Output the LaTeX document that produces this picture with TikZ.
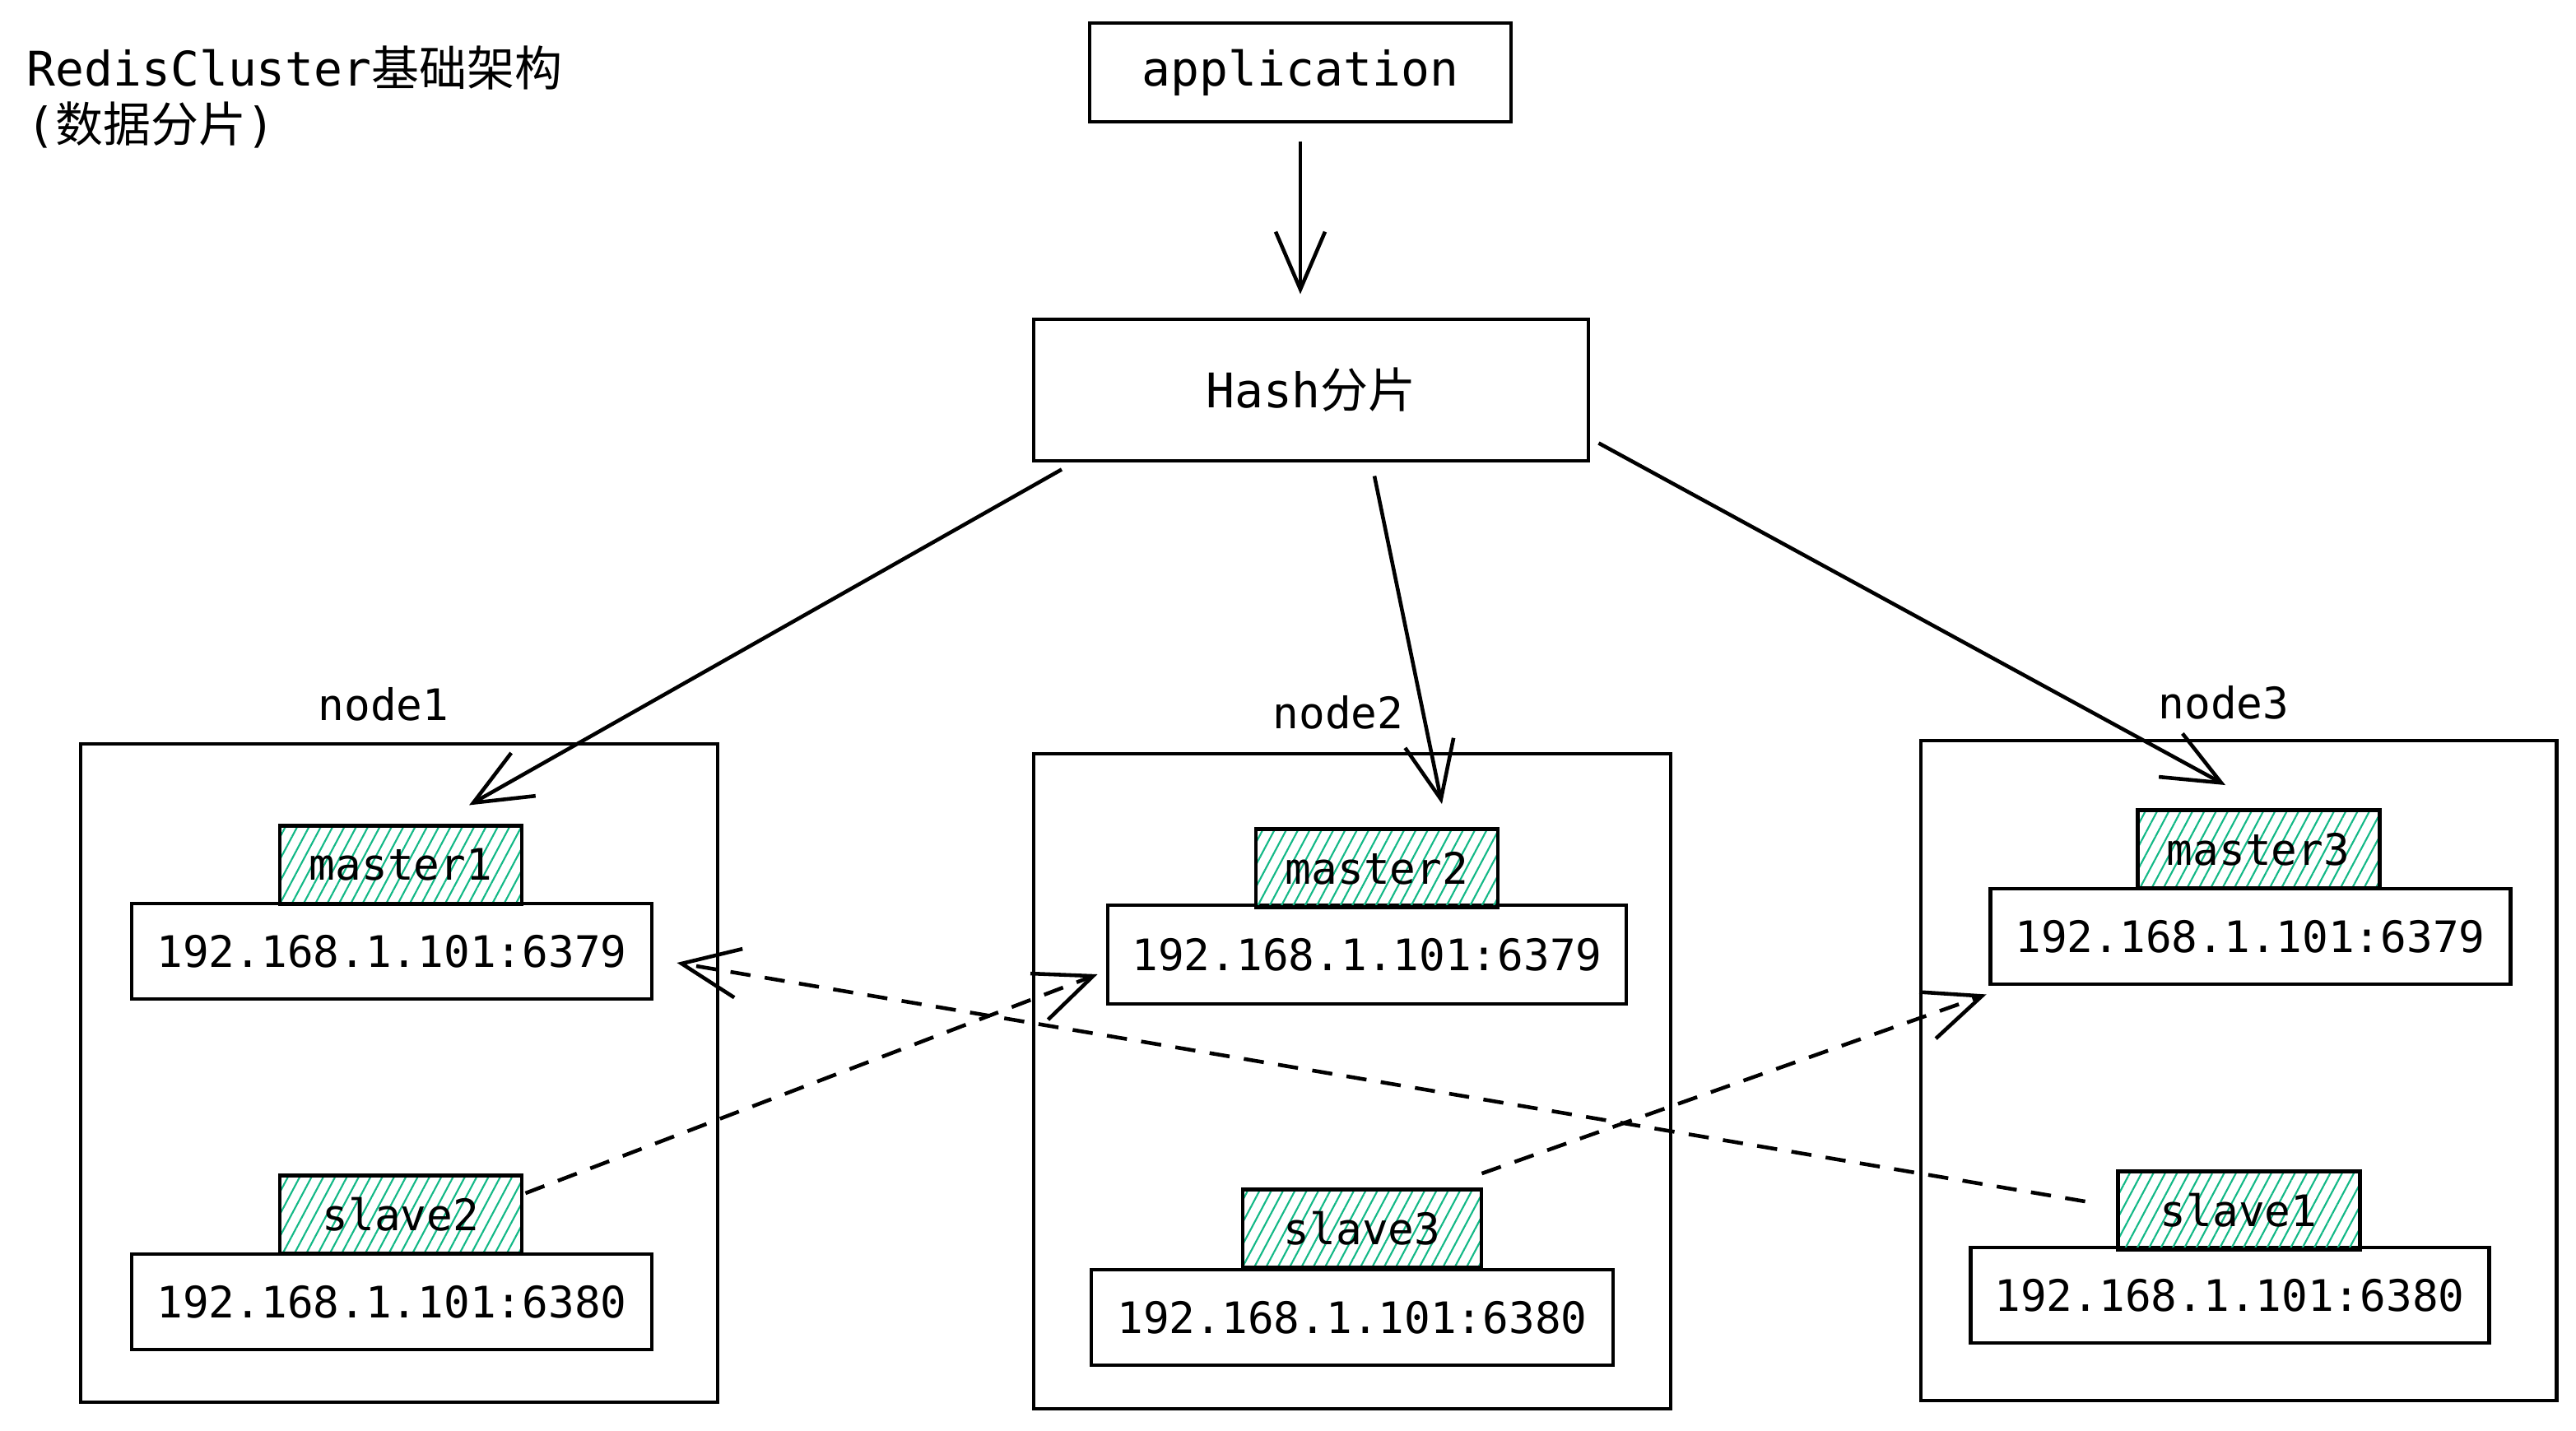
\documentclass[tikz,border=0pt]{standalone}
\usepackage{fontspec}
\setmonofont{DejaVu Sans Mono}
\newfontfamily\cjk{Noto Sans CJK SC}
\usepackage{tikz}
\usetikzlibrary{arrows.meta, patterns.meta}
\definecolor{hatchgreen}{HTML}{12B886}

\begin{document}
\begin{tikzpicture}[
    font=\ttfamily\fontsize{15}{18}\selectfont,
    box/.style={draw, rectangle, line width=1.4pt, inner sep=0pt},
    ipbox/.style={box, minimum width=6.32cm, minimum height=1.16cm},
    rolebox/.style={box, minimum width=2.94cm, minimum height=0.95cm,
        pattern={Lines[angle=62, distance=3.6pt, line width=0.6pt]}, pattern color=hatchgreen},
    groupbox/.style={box, line width=1.4pt, minimum width=7.74cm, minimum height=8cm},
    arr/.style={-{Straight Barb[length=7mm, width=6mm]}, line width=1.3pt},
    dasharr/.style={arr, dash pattern=on 7pt off 5pt}
]
    \useasboundingbox (0,0) rectangle (31.3,-17.38);

    % Title
    \node[anchor=north west, align=left, inner sep=0pt, font=\ttfamily\fontsize{16.5}{19.5}\selectfont] (title) at (0.32,-0.55)
        {RedisCluster{\cjk 基础架构}\\({\cjk 数据分片})};

    % Client and sharding
    \node[box, minimum width=5.12cm, minimum height=1.2cm, font=\ttfamily\fontsize{16.5}{19.5}\selectfont] (app) at (15.80,-0.88) {application};
    \node[box, minimum width=6.74cm, minimum height=1.72cm, font=\ttfamily\fontsize{16.5}{19.5}\selectfont] (hash) at (15.93,-4.74) {Hash{\cjk 分片}};

    % Node boxes
    \node[groupbox] (n1) at (4.85,-13.04) {};
    \node[groupbox, minimum height=7.96cm] (n2) at (16.43,-13.14) {};
    \node[groupbox, minimum width=7.72cm, minimum height=8.02cm] (n3) at (27.20,-13.01) {};
    \node (lbl1) at (4.66,-8.56) {node1};
    \node (lbl2) at (16.26,-8.66) {node2};
    \node (lbl3) at (27.02,-8.54) {node3};

    % Addresses
    \node[ipbox] (ipm1) at (4.76,-11.56) {192.168.1.101:6379};
    \node[ipbox] (ips2) at (4.76,-15.82) {192.168.1.101:6380};
    \node[ipbox, minimum width=6.30cm, minimum height=1.2cm] (ipm2) at (16.61,-11.60) {192.168.1.101:6379};
    \node[ipbox, minimum width=6.34cm] (ips3) at (16.43,-16.01) {192.168.1.101:6380};
    \node[ipbox] (ipm3) at (27.34,-11.38) {192.168.1.101:6379};
    \node[ipbox, minimum width=6.30cm] (ips1) at (27.09,-15.74) {192.168.1.101:6380};

    % Roles
    \node[rolebox] (m1) at (4.87,-10.51) {master1};
    \node[rolebox] (s2) at (4.87,-14.76) {slave2};
    \node[rolebox] (m2) at (16.73,-10.55) {master2};
    \node[rolebox, minimum width=2.9cm] (s3) at (16.55,-14.93) {slave3};
    \node[rolebox] (m3) at (27.44,-10.32) {master3};
    \node[rolebox] (s1) at (27.20,-14.71) {slave1};

    % Routing
    \draw[arr, shorten <=6pt, shorten >=8pt] (app.south) -- (app.south |- hash.north);
    \draw[arr] ([xshift=-3.03cm, yshift=-0.08cm]hash.south) -- ([xshift=0.83cm, yshift=0.24cm]m1.north);
    \draw[arr] ([xshift=0.77cm, yshift=-0.16cm]hash.south) -- ([xshift=0.79cm, yshift=0.28cm]m2.north);
    \draw[arr] ([xshift=0.10cm, yshift=0.24cm]hash.south east) -- ([xshift=-0.40cm, yshift=0.28cm]m3.north);

    % Replication
    \draw[dasharr] ([xshift=0.02cm, yshift=0.26cm]s2.east) -- ([xshift=-0.10cm, yshift=-0.24cm]ipm2.west);
    \draw[dasharr] ([xshift=-0.37cm, yshift=0.11cm]s1.west) -- ([xshift=0.28cm, yshift=-0.14cm]ipm1.east);
    \draw[dasharr] ([xshift=-0.02cm, yshift=0.17cm]s3.north east) -- ([xshift=-0.02cm, yshift=-0.10cm]ipm3.south west);
\end{tikzpicture}
\end{document}
